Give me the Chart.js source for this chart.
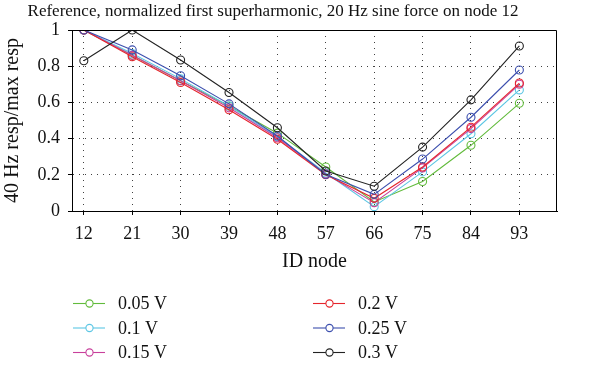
<!DOCTYPE html>
<html>
<head>
<meta charset="utf-8">
<script src="https://cdn.jsdelivr.net/npm/chart.js@4.4.1/dist/chart.umd.min.js"></script>
<style>
  html, body { margin: 0; padding: 0; background: #fff; }
  #wrap { width: 600px; height: 366px; position: relative; }
</style>
</head>
<body>
<div id="wrap"><canvas id="c" width="600" height="366"></canvas></div>
<script>
const chartTitle = "Reference, normalized first superharmonic, 20 Hz sine force on node 12";
const xTitle = "ID node";
const yTitle = "40 Hz resp/max resp";
const nodes = [12, 21, 30, 39, 48, 57, 66, 75, 84, 93];
const yTicks = [0, 0.2, 0.4, 0.6, 0.8, 1];
const seriesLabels = ["0.05 V", "0.1 V", "0.15 V", "0.2 V", "0.25 V", "0.3 V"];
const v005 = [1.00, 0.86, 0.72, 0.58, 0.43, 0.243, 0.05, 0.163, 0.363, 0.595];
const v010 = [1.00, 0.87, 0.73, 0.58, 0.41, 0.21, 0.024, 0.216, 0.427, 0.669];
const v015 = [1.00, 0.86, 0.72, 0.57, 0.405, 0.205, 0.046, 0.238, 0.455, 0.700];
const v020 = [1.00, 0.852, 0.71, 0.559, 0.396, 0.20, 0.07, 0.243, 0.463, 0.707];
const v025 = [1.00, 0.89, 0.747, 0.592, 0.414, 0.202, 0.092, 0.287, 0.518, 0.779];
const v030 = [0.83, 1.00, 0.834, 0.655, 0.46, 0.221, 0.137, 0.353, 0.614, 0.912];
const seriesValues = [v005, v010, v015, v020, v025, v030];
const seriesColors = ["#62bb3c", "#5cc6e4", "#c8409c", "#e5262c", "#3c4fae", "#222222"];

const FONT = "'Liberation Serif', 'DejaVu Serif', serif";

const datasets = seriesValues.map((vals, i) => ({
  label: seriesLabels[i],
  data: vals.map((v, j) => ({ x: nodes[j], y: v })),
  borderColor: seriesColors[i],
  backgroundColor: 'rgba(0,0,0,0)',
  pointBorderColor: seriesColors[i],
  pointBackgroundColor: 'rgba(0,0,0,0)',
  borderWidth: 1.1,
  pointRadius: 4,
  pointBorderWidth: 1.1,
  pointHoverRadius: 4,
  tension: 0,
  order: seriesValues.length - i
}));

const extras = {
  id: 'extras',
  afterDraw(chart) {
    const ctx = chart.ctx;
    const a = chart.chartArea;
    ctx.save();
    // box
    ctx.strokeStyle = '#000';
    ctx.lineWidth = 1;
    ctx.beginPath();
    ctx.moveTo(Math.round(a.left) + 0.5, Math.round(a.top) + 0.5);
    ctx.lineTo(Math.round(a.right) - 0.5, Math.round(a.top) + 0.5);
    ctx.lineTo(Math.round(a.right) - 0.5, Math.round(a.bottom) + 0.5);
    ctx.stroke();
    // title
    ctx.fillStyle = '#111';
    ctx.font = "17px " + FONT;
    ctx.textAlign = 'center';
    ctx.textBaseline = 'middle';
    ctx.fillText(chartTitle, 273, 12);
    // legend
    const colX = [73, 313];
    const rowY = [303.5, 328, 352.5];
    ctx.font = "18px " + FONT;
    ctx.textAlign = 'left';
    seriesLabels.forEach((lab, i) => {
      const x0 = colX[Math.floor(i / 3)];
      const y0 = rowY[i % 3];
      ctx.strokeStyle = seriesColors[i];
      ctx.lineWidth = 1.1;
      ctx.beginPath();
      ctx.moveTo(x0, y0);
      ctx.lineTo(x0 + 32, y0);
      ctx.stroke();
      ctx.beginPath();
      ctx.fillStyle = '#fff';
      ctx.arc(x0 + 16.5, y0, 3.6, 0, Math.PI * 2);
      ctx.fill();
      ctx.stroke();
      ctx.fillStyle = '#111';
      ctx.fillText(lab, x0 + 45, y0 + 1);
    });
    ctx.restore();
  }
};

new Chart(document.getElementById('c'), {
  type: 'line',
  data: { datasets },
  plugins: [extras],
  options: {
    responsive: false,
    animation: false,
    devicePixelRatio: 1,
    layout: { padding: { left: 0, right: 43, top: 30, bottom: 80 } },
    plugins: {
      legend: { display: false },
      title: { display: false },
      tooltip: { enabled: false }
    },
    scales: {
      x: {
        type: 'linear',
        min: 9.8,
        max: 100,
        afterBuildTicks(scale) { scale.ticks = nodes.map(v => ({ value: v })); },
        afterFit(scale) { scale.height = 75; },
        grid: { color: 'rgba(0,0,0,0.75)', lineWidth: 1, drawTicks: true, tickLength: 4, tickColor: '#000', tickBorderDash: [] },
        border: { display: true, color: '#000', width: 1, dash: [1, 5] },
        ticks: { color: '#111', font: { family: FONT, size: 18 }, padding: 8, maxRotation: 0, autoSkip: false },
        title: { display: true, text: xTitle, color: '#111', font: { family: FONT, size: 20 }, padding: { top: 0, bottom: 12 } }
      },
      y: {
        type: 'linear',
        min: 0,
        max: 1,
        afterBuildTicks(scale) { scale.ticks = yTicks.map(v => ({ value: v })); },
        afterFit(scale) { scale.width = 72; },
        grid: { color: 'rgba(0,0,0,0.75)', lineWidth: 1, drawTicks: true, tickLength: 4, tickColor: '#000', tickBorderDash: [] },
        border: { display: true, color: '#000', width: 1, dash: [1, 5] },
        ticks: { color: '#111', font: { family: FONT, size: 18 }, padding: 8, callback: v => String(v) },
        title: { display: true, text: yTitle, color: '#111', font: { family: FONT, size: 20 }, padding: { top: 1, bottom: 0 } }
      }
    }
  }
});
</script>
</body>
</html>
